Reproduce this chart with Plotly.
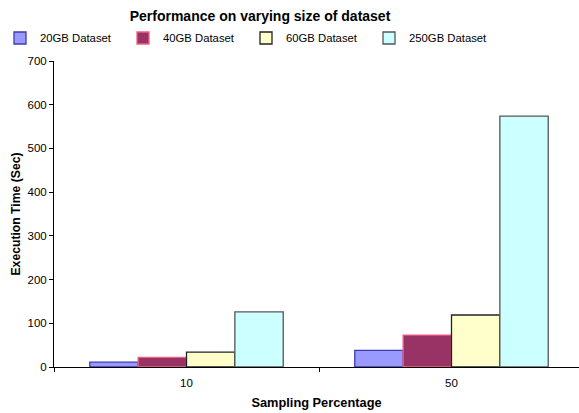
import plotly.graph_objects as go

categories = ["10", "50"]
series_names = ["20GB Dataset", "40GB Dataset", "60GB Dataset", "250GB Dataset"]
values_20gb = [11, 38]
values_40gb = [22, 73]
values_60gb = [34, 119]
values_250gb = [126, 574]

fills = ["#9999FF", "#993366", "#FFFFCC", "#CCFFFF"]
edges = ["#3b3bb0", "#f06080", "#222222", "#555555"]

fig = go.Figure()
for name, vals, fc, ec in zip(series_names,
                              [values_20gb, values_40gb, values_60gb, values_250gb],
                              fills, edges):
    fig.add_trace(go.Bar(
        x=categories, y=vals, name=name,
        marker=dict(color=fc, line=dict(color=ec, width=1.3)),
    ))

font = "Liberation Sans, Arial, sans-serif"
fig.update_layout(
    width=579, height=413,
    margin=dict(l=54, r=0, t=61, b=46),
    paper_bgcolor="white", plot_bgcolor="white",
    barmode="group", bargap=0.27, bargroupgap=0,
    font=dict(family=font, size=11.5, color="black"),
    title=dict(text="<b>Performance on varying size of dataset</b>",
               x=260 / 579, xanchor="center", y=1 - 16 / 413, yanchor="middle",
               font=dict(size=14, family=font)),
    legend=dict(orientation="h", x=0, xanchor="left", xref="container",
                y=1 - 38 / 413, yanchor="middle", yref="container",
                entrywidth=78, entrywidthmode="pixels",
                font=dict(size=11.3, family=font), itemwidth=30,
                traceorder="normal"),
    xaxis=dict(type="category", range=[-0.5, 1.5 - 5 / 265],
               showline=True, linecolor="black", linewidth=1,
               ticks="outside", tickson="boundaries", ticklen=4,
               tickcolor="black", showgrid=False, ticklabelstandoff=5,
               title=dict(text="<b>Sampling Percentage</b>", standoff=10,
                          font=dict(size=12.8))),
    yaxis=dict(range=[0, 700], dtick=100, showline=True, linecolor="black",
               linewidth=1, ticks="outside", ticklen=4, tickcolor="black",
               showgrid=False, zeroline=False,
               title=dict(text="<b>Execution Time (Sec)</b>", standoff=4,
                          font=dict(size=12.2))),
)

fig.write_html("out.html")
